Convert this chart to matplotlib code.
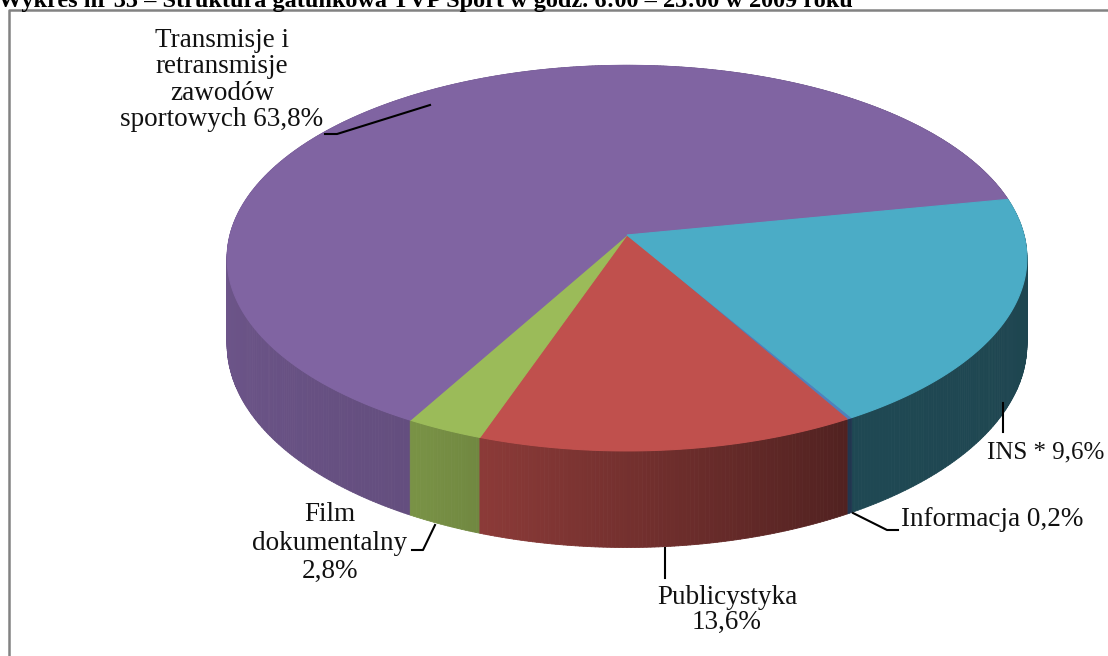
import numpy as np
import matplotlib

matplotlib.use("Agg")

import matplotlib.pyplot as plt  # noqa: E402
from matplotlib.collections import PolyCollection  # noqa: E402
from matplotlib.colors import to_rgb  # noqa: E402

TITLE = "Wykres nr 35 – Struktura gatunkowa TVP Sport w godz. 6:00 – 23:00 w 2009 roku"

# slices clockwise, starting at the Informacja slice
CATEGORIES = ["Informacja", "Publicystyka", "Film\ndokumentalny",
              "Transmisje i\nretransmisje\nzawodów\nsportowych", "INS *"]
SHARES = [0.2, 13.6, 2.8, 63.8, 19.6]          # slice sizes as drawn
PRINTED = ["0,2%", "13,6%", "2,8%", "63,8%", "9,6%"]  # percentages as printed
COLORS = ["#4F81BD", "#C0504D", "#9BBB59", "#8064A2", "#4BACC6"]

# pie geometry (pixels)
CX, CY = 627, 235
RX, RY = 397, 190
PERSP = 0.12
DEPTH = 85
START = -59.5

# side wall shading by angle
SHADE_ANG = [-180, -118, -108, -60, 0, 180]
SHADE_VAL = [0.86, 0.78, 0.72, 0.42, 0.40, 0.86]


def project(theta_deg, drop=0.0):
    t = np.radians(theta_deg)
    s = 1.0 / (1.0 + PERSP * np.sin(t))
    return CX + RX * np.cos(t) * s, CY - RY * np.sin(t) * s + drop * s


def wrap(a):
    return (a + 180.0) % 360.0 - 180.0


fig = plt.figure(figsize=(11.08, 6.56), dpi=100)
ax = fig.add_axes([0, 0, 1, 1])
ax.set_xlim(0, 1108)
ax.set_ylim(656, 0)
ax.axis("off")

total = sum(SHARES)
spans = []
a0 = START
for share in SHARES:
    a1 = a0 - 360.0 * share / total
    spans.append((a0, a1))
    a0 = a1

# side walls, back to front
quads, quad_colors, depth_key = [], [], []
for (a0, a1), color in zip(spans, COLORS):
    n = max(2, int(abs(a0 - a1) / 0.5))
    angles = np.linspace(a0, a1, n + 1)
    base = np.array(to_rgb(color))
    for b0, b1 in zip(angles[:-1], angles[1:]):
        xt0, yt0 = project(b0)
        xt1, yt1 = project(b1)
        xb0, yb0 = project(b0, DEPTH)
        xb1, yb1 = project(b1, DEPTH)
        quads.append([(xt0, yt0), (xt1, yt1), (xb1, yb1), (xb0, yb0)])
        mid = wrap(0.5 * (b0 + b1))
        quad_colors.append(base * np.interp(mid, SHADE_ANG, SHADE_VAL))
        depth_key.append(np.sin(np.radians(mid)))
order = np.argsort(depth_key)[::-1]
walls = PolyCollection([quads[i] for i in order],
                       facecolors=[quad_colors[i] for i in order],
                       edgecolors=[quad_colors[i] for i in order],
                       linewidths=0.6)
ax.add_collection(walls)

# top faces
for (a0, a1), color in zip(spans, COLORS):
    n = max(2, int(abs(a0 - a1) / 0.5))
    xs, ys = project(np.linspace(a0, a1, n + 1))
    pts = [(CX, CY)] + list(zip(xs, ys))
    ax.add_patch(plt.Polygon(pts, closed=True, facecolor=color,
                             edgecolor=color, linewidth=0.8))

# labels
serif = "Liberation Serif"
fs = 19.5
ink = "#111111"
ax.text(222, 80, f"{CATEGORIES[3]} {PRINTED[3]}", ha="center", va="center",
        fontsize=fs, family=serif, linespacing=1.08, color=ink)
ax.plot([325, 337, 430], [134, 134, 105], color="black", lw=1.5)

ax.text(987, 452, f"{CATEGORIES[4]} {PRINTED[4]}", ha="left", va="center",
        fontsize=18, family=serif, color=ink)
ax.plot([1003, 1003], [403, 432], color="black", lw=1.5)

ax.text(901, 520, f"{CATEGORIES[0]} {PRINTED[0]}", ha="left", va="center",
        fontsize=fs, family=serif, color=ink)
ax.plot([853, 887, 898], [513, 530, 530], color="black", lw=1.5)

ax.text(727, 610, f"{CATEGORIES[1]}\n{PRINTED[1]}", ha="center", va="center",
        fontsize=fs, family=serif, linespacing=1.02, color=ink)
ax.plot([665, 665], [548, 578], color="black", lw=1.5)

ax.text(330, 543, f"{CATEGORIES[2]}\n{PRINTED[2]}", ha="center", va="center",
        fontsize=fs, family=serif, linespacing=1.18, color=ink)
ax.plot([412, 423, 435], [550, 550, 525], color="black", lw=1.5)

# frame and clipped title
ax.plot([9, 9, 1108], [656, 10, 10], color="#828282", lw=1.8, clip_on=False)
ax.text(-2, 6.5, TITLE, ha="left", va="baseline", fontsize=17.5,
        fontweight="bold", family=serif)

fig.savefig("out.png", dpi=100)
